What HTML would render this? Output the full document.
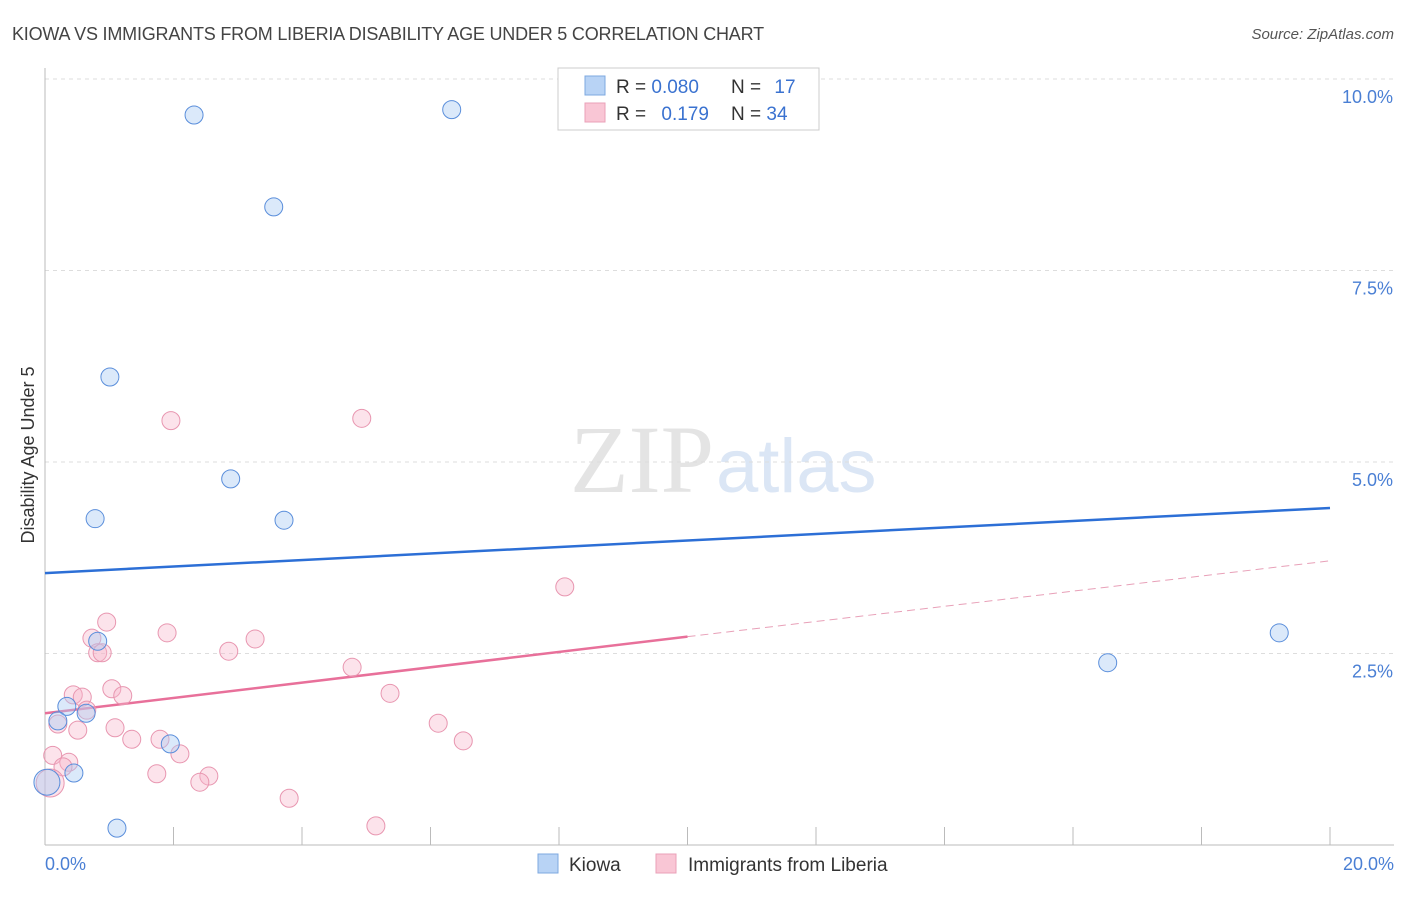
<!DOCTYPE html>
<html><head><meta charset="utf-8"><style>
body{margin:0;background:#fff;font-family:"Liberation Sans",sans-serif;}
svg text{font-family:"Liberation Sans",sans-serif;}
</style></head><body>
<svg width="1406" height="892">
<text x="12" y="40" font-size="18" fill="#444" letter-spacing="-0.2">KIOWA VS IMMIGRANTS FROM LIBERIA DISABILITY AGE UNDER 5 CORRELATION CHART</text>
<text x="1394" y="39" font-size="15" fill="#555" font-style="italic" text-anchor="end">Source: ZipAtlas.com</text>
<text x="714" y="492" font-size="96" fill="#e4e4e4" text-anchor="end" style="font-family:'Liberation Serif',serif">ZIP</text>
<text x="716" y="492" font-size="76" fill="#dbe6f5">atlas</text>
<g id="grid"></g>
<g id="axes"></g>
<g id="lines"></g>
<g id="pts"></g>
<text transform="translate(34,455) rotate(-90)" font-size="18" fill="#333" text-anchor="middle">Disability Age Under 5</text>
<text x="45" y="870" font-size="18" fill="#4a7fd4">0.0%</text>
<text x="1394" y="870" font-size="18" fill="#4a7fd4" text-anchor="end">20.0%</text>
<g>
<rect x="558" y="68" width="261" height="62" fill="#fff" stroke="#ccc"/>
<rect x="585" y="76" width="20" height="19" fill="#b8d3f5" stroke="#7ea8e0"/>
<rect x="585" y="103" width="20" height="19" fill="#f9c6d5" stroke="#eaa0b8"/>
<text x="616" y="93" font-size="19" fill="#333">R = <tspan fill="#3a72d0">0.080</tspan></text>
<text x="731" y="93" font-size="19" fill="#333">N = <tspan fill="#3a72d0" dx="8">17</tspan></text>
<text x="616" y="120" font-size="19" fill="#333">R = <tspan fill="#3a72d0" dx="10">0.179</tspan></text>
<text x="731" y="120" font-size="19" fill="#333">N = <tspan fill="#3a72d0">34</tspan></text>
</g>
<g>
<rect x="538" y="854" width="20" height="19" fill="#b8d3f5" stroke="#7ea8e0"/>
<text x="569" y="871" font-size="19" fill="#333">Kiowa</text></g>
<g>
<rect x="656" y="854" width="20" height="19" fill="#f9c6d5" stroke="#eaa0b8"/>
<text x="688" y="871" font-size="19" fill="#333">Immigrants from Liberia</text></g>
</svg>
<script>
const yTicks=[2.5,5.0,7.5,10.0];
const yTickLabels=["2.5%","5.0%","7.5%","10.0%"];
const kiowaX=[2.32,6.33,3.56,1.01,2.89,0.78,3.72,0.82,0.34,0.20,0.64,1.95,0.45,1.12,16.54,19.21,0.03];
const kiowaY=[9.53,9.60,8.33,6.11,4.78,4.26,4.24,2.66,1.81,1.62,1.72,1.32,0.94,0.22,2.38,2.77,0.82];
const libX=[0.96,0.73,1.90,3.27,2.86,0.82,0.89,0.44,0.58,1.04,1.21,0.65,0.20,0.51,1.09,1.35,1.79,2.10,0.12,0.37,0.28,1.74,2.55,2.41,0.08,1.96,4.93,8.09,4.78,5.37,6.12,6.51,3.80,5.15];
const libY=[2.91,2.70,2.77,2.69,2.53,2.51,2.51,1.96,1.93,2.04,1.95,1.76,1.58,1.50,1.53,1.38,1.38,1.19,1.17,1.08,1.02,0.93,0.90,0.82,0.81,5.54,5.57,3.37,2.32,1.98,1.59,1.36,0.61,0.25];
const kiowaTrend=[3.55,4.40];
const libTrend=[1.72,2.72,3.71];
const NS="http://www.w3.org/2000/svg";
const X=v=>45+v*1285/20, Y=v=>845-v*76.6;
function mk(t,a,p){const e=document.createElementNS(NS,t);for(const k in a)e.setAttribute(k,a[k]);document.getElementById(p).appendChild(e);return e;}
yTicks.forEach((t,i)=>{
 const l=mk('line',{x1:45,x2:1394,y1:Y(t),y2:Y(t),stroke:'#ddd','stroke-dasharray':'4,4'},'grid');
 
 
 const tx=mk('text',{x:1393,y:Y(t)+24,'font-size':18,fill:'#4a7fd4','text-anchor':'end'},'grid');
 tx.textContent=yTickLabels[i];
 
 
});
let a=mk('line',{x1:45,x2:45,y1:68,y2:845,stroke:'#bbb'},'axes');


a=mk('line',{x1:45,x2:1394,y1:845,y2:845,stroke:'#bbb'},'axes');


for(let k=1;k<=10;k++){const t=mk('line',{x1:X(k*2),x2:X(k*2),y1:827,y2:845,stroke:'#bbb'},'axes');
 
 }
let l=mk('line',{x1:X(0),y1:Y(kiowaTrend[0]),x2:X(20),y2:Y(kiowaTrend[1]),stroke:'#2c6fd6','stroke-width':2.5},'lines');


l=mk('line',{x1:X(0),y1:Y(libTrend[0]),x2:X(10),y2:Y(libTrend[1]),stroke:'#e8709a','stroke-width':2.5},'lines');


l=mk('line',{x1:X(10),y1:Y(libTrend[1]),x2:X(20),y2:Y(libTrend[2]),stroke:'#e8a0b8','stroke-width':1,'stroke-dasharray':'8,5'},'lines');


libX.forEach((v,i)=>{const c=mk('circle',{cx:X(v),cy:Y(libY[i]),r:i==24?14:9,fill:'rgba(248,182,202,0.38)',stroke:'#e896b0','stroke-width':1},'pts');
 
 });
kiowaX.forEach((v,i)=>{const c=mk('circle',{cx:X(v),cy:Y(kiowaY[i]),r:i==16?13:9,fill:'rgba(170,202,242,0.42)',stroke:'#5a8edb','stroke-width':1},'pts');
 
 });
</script>
</body></html>
